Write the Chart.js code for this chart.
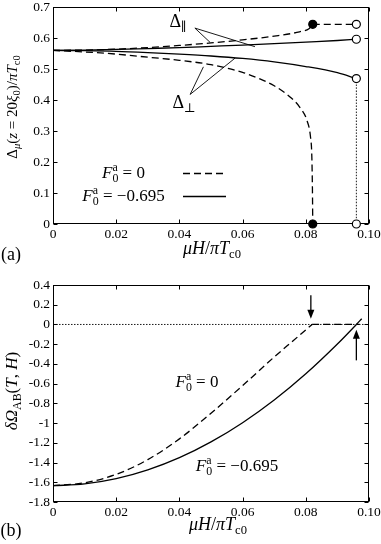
<!DOCTYPE html>
<html><head><meta charset="utf-8">
<script src="https://cdn.jsdelivr.net/npm/chart.js@4.4.0/dist/chart.umd.min.js"></script>
<style>
html,body{margin:0;padding:0;background:#fff;width:381px;height:544px;overflow:hidden}
canvas{position:absolute;left:0}
.pre{font-family:"Liberation Serif";position:absolute;left:-100px;top:-100px}
</style></head><body>
<span class="pre">0.1 <i>F</i></span>
<canvas id="a" width="381" height="265" style="top:0"></canvas>
<canvas id="b" width="381" height="279" style="top:265px"></canvas>
<script>
// ---------- data ----------
const xTicks = [0, 0.02, 0.04, 0.06, 0.08, 0.10];
const xTickLabels = ['0', '0.02', '0.04', '0.06', '0.08', '0.10'];
const gapTicks = [0, 0.1, 0.2, 0.3, 0.4, 0.5, 0.6, 0.7];
const gapTickLabels = ['0', '0.1', '0.2', '0.3', '0.4', '0.5', '0.6', '0.7'];
const omegaTicks = [0.4, 0.2, 0, -0.2, -0.4, -0.6, -0.8, -1, -1.2, -1.4, -1.6, -1.8];
const omegaTickLabels = ['0.4', '0.2', '0', '-0.2', '-0.4', '-0.6', '-0.8', '-1', '-1.2', '-1.4', '-1.6', '-1.8'];

// (a) F0a = 0 (dashed)
const parX_F0 = [0, 0.01, 0.02, 0.03, 0.04, 0.05, 0.06, 0.07, 0.078, 0.081, 0.0822];
const parY_F0 = [0.560, 0.561, 0.564, 0.569, 0.576, 0.584, 0.594, 0.606, 0.620, 0.630, 0.644];
const parFlatX_F0 = [0.0822, 0.096];
const parFlatY_F0 = [0.644, 0.644];
const perpX_F0 = [0, 0.01, 0.02, 0.03, 0.04, 0.05, 0.06, 0.065, 0.07, 0.075, 0.078, 0.0805, 0.0815, 0.0819, 0.0821, 0.0822];
const perpY_F0 = [0.560, 0.555, 0.548, 0.538, 0.528, 0.514, 0.489, 0.470, 0.446, 0.410, 0.378, 0.330, 0.280, 0.220, 0.110, 0.0];
// (a) F0a = -0.695 (solid)
const gapX_F695 = [0, 0.01, 0.02, 0.03, 0.04, 0.05, 0.06, 0.07, 0.08, 0.09, 0.096];
const parY_F695 = [0.560, 0.561, 0.563, 0.566, 0.569, 0.573, 0.577, 0.582, 0.587, 0.592, 0.596];
const perpY_F695 = [0.560, 0.559, 0.557, 0.553, 0.548, 0.542, 0.534, 0.523, 0.508, 0.488, 0.469];
const dropX = [0.096, 0.096];
const dropY = [0.469, 0];
const filledX = [0.0822, 0.0822];
const filledY = [0.644, 0];
const openX = [0.096, 0.096, 0.096, 0.096];
const openY = [0.644, 0.596, 0.469, 0];

// (b)
const omegaX_F0 = [0, 0.01, 0.02, 0.03, 0.04, 0.05, 0.06, 0.07, 0.076, 0.082];
const omegaY_F0 = [-1.635, -1.605, -1.52, -1.37, -1.16, -0.90, -0.62, -0.33, -0.165, 0];
const omegaFlatX_F0 = [0.082, 0.097];
const omegaFlatY_F0 = [0, 0];
const omegaX_F695 = [0, 0.01, 0.02, 0.03, 0.04, 0.05, 0.06, 0.07, 0.08, 0.09, 0.096, 0.0977];
const omegaY_F695 = [-1.635, -1.617, -1.564, -1.475, -1.351, -1.191, -0.996, -0.766, -0.500, -0.198, 0.0, 0.058];
const zeroX = [0, 0.10];
const zeroY = [0, 0];

// ---------- helpers ----------
const FAM = '"Liberation Serif", "Times New Roman", "DejaVu Serif", serif';
const pts = (xs, ys) => xs.map((x, i) => ({x, y: ys[i]}));
function fnt(it, size) { return (it ? 'italic ' : '') + size + 'px ' + FAM; }
function richWidth(ctx, segs, size) {
  let w = 0;
  for (const s of segs) {
    if (s.t !== undefined) { ctx.font = fnt(s.i, size); w += ctx.measureText(s.t).width; }
    else {
      ctx.font = fnt(s.i, size * 0.7);
      w += Math.max(s.sb ? ctx.measureText(s.sb).width : 0, s.sp ? ctx.measureText(s.sp).width : 0);
    }
  }
  return w;
}
function drawRich(ctx, segs, x, cy, size, align) {
  const w = richWidth(ctx, segs, size);
  let cx = align === 'left' ? x : align === 'right' ? x - w : x - w / 2;
  const base = cy + size * 0.32;
  ctx.fillStyle = '#000';
  ctx.textBaseline = 'alphabetic'; ctx.textAlign = 'left';
  for (const s of segs) {
    if (s.t !== undefined) { ctx.font = fnt(s.i, size); ctx.fillText(s.t, cx, base); cx += ctx.measureText(s.t).width; }
    else {
      ctx.font = fnt(s.i, size * 0.7);
      let w1 = 0, w2 = 0;
      if (s.sb) { ctx.fillText(s.sb, cx, base + size * 0.22); w1 = ctx.measureText(s.sb).width; }
      if (s.sp) { ctx.fillText(s.sp, cx, base - size * 0.42); w2 = ctx.measureText(s.sp).width; }
      cx += Math.max(w1, w2);
    }
  }
}
function drawRotated(ctx, segs, x, y, size) {
  ctx.save(); ctx.translate(x, y); ctx.rotate(-Math.PI / 2);
  drawRich(ctx, segs, 0, 0, size, 'center'); ctx.restore();
}
function frame(chart, xt, yt) {
  const {ctx, chartArea: a, scales: {x, y}} = chart;
  ctx.save(); ctx.strokeStyle = '#000'; ctx.lineWidth = 1;
  const L = Math.round(a.left) + 0.5, R = Math.round(a.right) - 0.5, T = Math.round(a.top) + 0.5, B = Math.round(a.bottom) - 0.5;
  ctx.strokeRect(L, T, R - L, B - T);
  ctx.beginPath();
  for (const v of xt) { const p = Math.round(x.getPixelForValue(v)) + 0.5; ctx.moveTo(p, B); ctx.lineTo(p, B - 4); ctx.moveTo(p, T); ctx.lineTo(p, T + 4); }
  for (const v of yt) { const p = Math.round(y.getPixelForValue(v)) + 0.5; ctx.moveTo(L, p); ctx.lineTo(L + 4, p); ctx.moveTo(R, p); ctx.lineTo(R - 4, p); }
  ctx.stroke(); ctx.restore();
}
function line(ctx, x1, y1, x2, y2, w) {
  ctx.beginPath(); ctx.moveTo(x1, y1); ctx.lineTo(x2, y2); ctx.lineWidth = w || 1; ctx.stroke();
}
function arrow(chart, xv, fromV, toV) {
  const {ctx, scales: {x, y}} = chart;
  const px = x.getPixelForValue(xv), p1 = y.getPixelForValue(fromV), p2 = y.getPixelForValue(toV);
  const dir = Math.sign(p2 - p1);
  ctx.save(); ctx.strokeStyle = '#000'; ctx.fillStyle = '#000';
  line(ctx, px, p1, px, p2 - dir * 6, 1.3);
  ctx.beginPath(); ctx.moveTo(px, p2); ctx.lineTo(px - 3.5, p2 - dir * 9); ctx.lineTo(px + 3.5, p2 - dir * 9); ctx.closePath(); ctx.fill();
  ctx.restore();
}
const F0 = (rest) => [{t: 'F', i: true}, {sb: '0', sp: 'a'}, {t: rest}];
const xTitle = [{t: 'μ', i: true}, {t: 'H', i: true}, {t: '/'}, {t: 'π', i: true}, {t: 'T', i: true}, {sb: 'c0'}];

function lineDS(data, dashed, extra) {
  return Object.assign({type: 'line', data, borderColor: '#000', borderWidth: 1.3, borderDash: dashed ? [7, 4] : [],
    pointRadius: 0, fill: false, cubicInterpolationMode: 'monotone', order: 2}, extra || {});
}
function pointDS(data, filled) {
  return {type: 'scatter', data, showLine: false, pointRadius: 4, pointHoverRadius: 4, pointBorderWidth: 1.2,
    pointBackgroundColor: filled ? '#000' : '#fff', pointBorderColor: '#000', clip: false, order: 0};
}
function axes(yTicks, yLabels, yMin, yMax, xHeight) {
  return {
    x: {type: 'linear', min: 0, max: 0.1,
      afterBuildTicks: s => { s.ticks = xTicks.map(v => ({value: v})); },
      afterFit: s => { s.height = xHeight; s.paddingLeft = 0; s.paddingRight = 0; },
      ticks: {callback: (v, i) => xTickLabels[i], color: '#000', font: {family: FAM, size: 13.5}, padding: 2, maxRotation: 0, autoSkip: false},
      grid: {display: false, drawTicks: false}, border: {display: false}},
    y: {type: 'linear', min: yMin, max: yMax,
      afterBuildTicks: s => { s.ticks = yTicks.map(v => ({value: v})); },
      afterFit: s => { s.width = 53; s.paddingTop = 0; s.paddingBottom = 0; },
      ticks: {callback: (v, i) => yLabels[i], color: '#000', font: {family: FAM, size: 13.5}, padding: 3, autoSkip: false},
      grid: {display: false, drawTicks: false}, border: {display: false}}
  };
}
const common = {responsive: false, animation: false, devicePixelRatio: 1,
  plugins: {legend: {display: false}, tooltip: {enabled: false}}, events: []};

// ---------- annotation layout ----------
const parLabel = {x: 0.0396, y: 0.655};
const parApex = {x: 0.0449, y: 0.632};
const parEnds = [{x: 0.0497, y: 0.586}, {x: 0.0639, y: 0.572}];
const perpLabel = {x: 0.0415, y: 0.394};
const perpApex = {x: 0.0434, y: 0.418};
const perpEnds = [{x: 0.0476, y: 0.507}, {x: 0.0576, y: 0.535}];
const downArrow = {x: 0.0816, from: 0.295, to: 0.059};
const upArrow = {x: 0.096, from: -0.364, to: -0.053};

function build() {
new Chart(document.getElementById('a'), {
  data: {datasets: [
    pointDS(pts(filledX, filledY), true),
    pointDS(pts(openX, openY), false),
    lineDS(pts(parX_F0, parY_F0), true),
    lineDS(pts(parFlatX_F0, parFlatY_F0), true),
    lineDS(pts(perpX_F0, perpY_F0), true),
    lineDS(pts(gapX_F695, parY_F695), false),
    lineDS(pts(gapX_F695, perpY_F695), false),
    lineDS(pts(dropX, dropY), false, {borderWidth: 0.9, borderDash: [1.5, 1.5], order: 3})
  ]},
  options: Object.assign({}, common, {
    layout: {padding: {left: 0, top: 7, right: 12, bottom: 0}},
    scales: axes(gapTicks, gapTickLabels, 0, 0.7, 41)
  }),
  plugins: [{
    id: 'decorA',
    beforeDatasetsDraw(chart) { frame(chart, xTicks, gapTicks); },
    afterDraw(chart) {
      const {ctx, scales: {x, y}} = chart;
      ctx.save(); ctx.strokeStyle = '#000';
      const P = p => [x.getPixelForValue(p.x), y.getPixelForValue(p.y)];
      for (const [apex, ends] of [[parApex, parEnds], [perpApex, perpEnds]]) {
        const [ax, ay] = P(apex);
        for (const e of ends) { const [ex, ey] = P(e); line(ctx, ax, ay, ex, ey, 0.9); }
      }
      let [lx, ly] = P(parLabel);
      drawRich(ctx, [{t: 'Δ'}, {sb: '∥'}], lx, ly, 18, 'center');
      [lx, ly] = P(perpLabel);
      drawRich(ctx, [{t: 'Δ'}, {sb: '⊥'}], lx, ly, 18, 'center');
      drawRich(ctx, F0(' = 0'), 123.5, 173, 17, 'center');
      drawRich(ctx, F0(' = −0.695'), 123.5, 196, 17, 'center');
      ctx.setLineDash([7, 4]); line(ctx, 183, 173.5, 223, 173.5, 1.3);
      ctx.setLineDash([]); line(ctx, 183, 196.5, 226, 196.5, 1.3);
      drawRotated(ctx, [{t: 'Δ'}, {sb: 'μ', i: true}, {t: '('}, {t: 'z', i: true}, {t: ' = 20'}, {t: 'ξ', i: true}, {sb: '0'}, {t: ')/'}, {t: 'π', i: true}, {t: 'T', i: true}, {sb: 'c0'}], 12, 107, 15);
      drawRich(ctx, xTitle, 212, 248, 18, 'center');
      drawRich(ctx, [{t: '(a)'}], 11, 254, 18, 'center');
      ctx.restore();
    }
  }]
});

new Chart(document.getElementById('b'), {
  data: {datasets: [
    lineDS(pts(omegaX_F0, omegaY_F0), true),
    lineDS(pts(omegaFlatX_F0, omegaFlatY_F0), true),
    lineDS(pts(omegaX_F695, omegaY_F695), false),
    lineDS(pts(zeroX, zeroY), false, {borderWidth: 0.9, borderDash: [1.5, 1.5], order: 3})
  ]},
  options: Object.assign({}, common, {
    layout: {padding: {left: 0, top: 20, right: 12, bottom: 0}},
    scales: axes(omegaTicks, omegaTickLabels, -1.8, 0.4, 42)
  }),
  plugins: [{
    id: 'decorB',
    beforeDatasetsDraw(chart) { frame(chart, xTicks, omegaTicks); },
    afterDraw(chart) {
      const {ctx} = chart;
      ctx.save();
      arrow(chart, downArrow.x, downArrow.from, downArrow.to);
      arrow(chart, upArrow.x, upArrow.from, upArrow.to);
      drawRich(ctx, F0(' = 0'), 197, 117, 17, 'center');
      drawRich(ctx, F0(' = −0.695'), 237, 201, 17, 'center');
      drawRotated(ctx, [{t: 'δΩ', i: true}, {sb: 'AB'}, {t: '('}, {t: 'T', i: true}, {t: ', '}, {t: 'H', i: true}, {t: ')'}], 12, 126, 17);
      drawRich(ctx, xTitle, 218, 259, 18, 'center');
      drawRich(ctx, [{t: '(b)'}], 11, 265, 18, 'center');
      ctx.restore();
    }
  }]
});
}
const loads = ['13px "Liberation Serif"', 'italic 16px "Liberation Serif"'].map(f => document.fonts.load(f).catch(() => null));
Promise.all(loads).then(build, build);
</script></body></html>
